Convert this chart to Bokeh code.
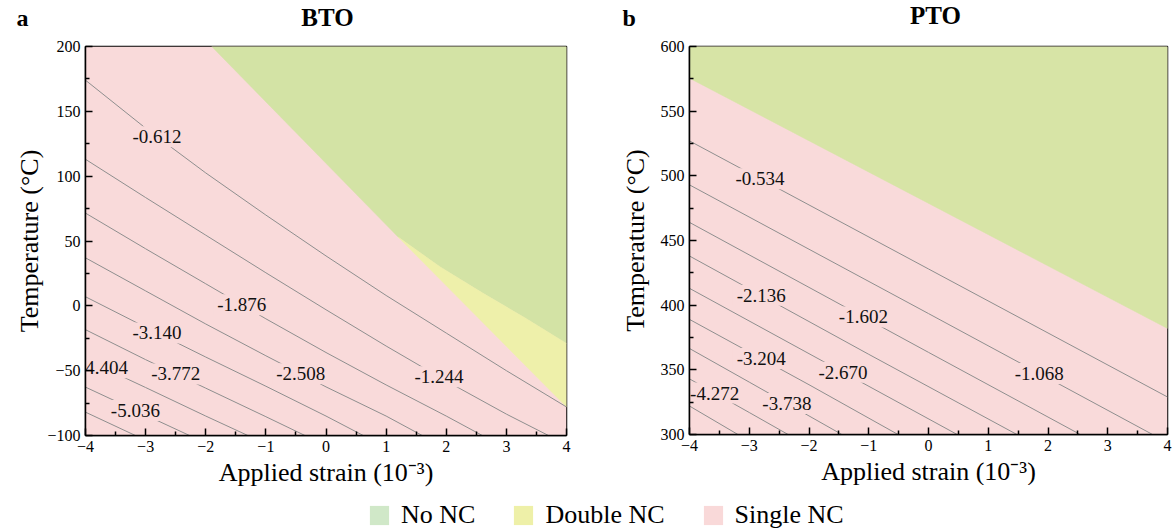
import numpy as np
from bokeh.plotting import figure
from bokeh.models import (Range1d, FixedTicker, CustomJSTickFormatter,
                          Legend, LegendItem)
from bokeh.layouts import column, row
from bokeh.embed import file_html
from bokeh.resources import INLINE
from bokeh.core.properties import value

# ---------------- data ----------------
strain_ticks = [-4, -3, -2, -1, 0, 1, 2, 3, 4]
strain_minor = [-3.5, -2.5, -1.5, -0.5, 0.5, 1.5, 2.5, 3.5]
strain_range = [-4, 4]

bto_temp_range = [-100, 200]
bto_temp_ticks = [-100, -50, 0, 50, 100, 150, 200]
bto_temp_minor = [-75, -25, 25, 75, 125, 175]

pto_temp_range = [300, 600]
pto_temp_ticks = [300, 350, 400, 450, 500, 550, 600]
pto_temp_minor = [325, 375, 425, 475, 525, 575]

# BTO contour lines (energy levels)
bto_levels = [-0.612, -1.244, -1.876, -2.508, -3.140, -3.772, -4.404, -5.036, -5.668]
bto_line_strain = [
    [-4, -3, -2, -1, 0, 1, 2, 3, 4],
    [-4, -3, -2, -1, 0, 1, 2, 3, 3.7],
    [-4, -3, -2, -1, 0, 1, 2, 2.6],
    [-4, -3, -2, -1, 0, 1, 1.6],
    [-4, -3, -2, -1, 0, 0.62],
    [-4, -3, -2, -1, -0.35],
    [-4, -3, -2, -1.3],
    [-4, -3, -2.27],
    [-4, -3.17],
]
bto_line_temp = [
    [174, 137, 102.5, 70, 38.5, 8, -21, -50, -78],
    [113, 83.5, 54.5, 25.5, -3, -31, -58, -83.5, -100],
    [71.5, 44, 17, -10, -36, -61, -85, -100],
    [37, 11.5, -14, -38.5, -62.5, -85, -100],
    [7, -16.5, -39.5, -62, -85, -100],
    [-18.4, -41.5, -63.5, -85.5, -100],
    [-41.3, -63, -85, -100],
    [-62.7, -84.3, -100],
    [-82, -100],
]
bto_label_strain = [-2.81, 1.88, -1.40, -0.42, -2.81, -2.50, -3.70, -3.17, None]

# BTO phase regions
bto_single_edge_strain = [-1.9, 4.0]      # upper edge of the Single NC region
bto_single_edge_temp = [200, -78]
bto_nonc_edge_strain = [1.2, 1.9, 2.6, 3.3, 4.0]   # No NC / Double NC edge
bto_nonc_edge_temp = [53, 30, 10, -9, -29]

# PTO contour lines
pto_levels = [-0.534, -1.068, -1.602, -2.136, -2.670, -3.204, -3.738, -4.272, -4.806]
pto_line_strain = [
    [-4, 0, 4], [-4, 0, 3.75], [-4, 0, 2.54], [-4, -1, 1.48], [-4, -2, 0.48],
    [-4, -2, -0.51], [-4, -3, -1.45], [-4, -3, -2.35], [-4, -3.19],
]
pto_line_temp = [
    [527, 428, 329], [493, 393.5, 300], [464, 363.5, 300], [438, 362, 300],
    [413, 362.5, 300], [389, 338.5, 300], [366.5, 340.5, 300], [343, 317, 300],
    [322, 300],
]
pto_label_strain = [-2.82, 1.855, -1.09, -2.80, -1.43, -2.80, -2.37, -3.58, None]

# PTO phase boundary (No NC above)
pto_nonc_edge_strain = [-4, 4]
pto_nonc_edge_temp = [575.5, 382]

panel_titles = ["BTO", "PTO"]
panel_letters = ["a", "b"]
legend_labels = ["No NC", "Double NC", "Single NC"]

# ---------------- style ----------------
PINK = "#f9dada"
GREEN = "#d3e3a5"
GREEN_B = "#d7e4a6"
YELLOW = "#eef0aa"
LEG_GREEN = "#d0e8c8"
LEG_YELLOW = "#eef0a8"
LEG_PINK = "#f9d9d9"
SERIF = "Liberation Serif"
LINE_GRAY = "#8e8e8e"
MINUS_JS = "return (tick < 0 ? '\u2212' : '') + Math.abs(tick);"
TOTAL_W = 1173


def style_axes(p, yticks, yminor, ylab_standoff):
    p.xaxis.ticker = FixedTicker(ticks=strain_ticks, minor_ticks=strain_minor)
    p.yaxis.ticker = FixedTicker(ticks=yticks, minor_ticks=yminor)
    for ax in (p.xaxis[0], p.yaxis[0]):
        ax.formatter = CustomJSTickFormatter(code=MINUS_JS)
        ax.major_tick_in = 7
        ax.major_tick_out = 0
        ax.minor_tick_in = 4
        ax.minor_tick_out = 0
        ax.axis_line_width = 1.5
        ax.major_tick_line_width = 1.5
        ax.minor_tick_line_width = 1.5
        ax.major_label_text_font = SERIF
        ax.major_label_text_font_size = "16px"
        ax.major_label_text_color = "black"
        ax.axis_label_text_font = SERIF
        ax.axis_label_text_font_size = "26px"
        ax.axis_label_text_font_style = "normal"
        ax.axis_label_text_color = "black"
    p.xaxis.major_label_standoff = 5
    p.yaxis.major_label_standoff = 5
    p.xaxis.axis_label_standoff = 3
    p.yaxis.axis_label_standoff = ylab_standoff
    p.xaxis.axis_label = "Applied strain (10\u207b\u00b3)"
    p.yaxis.axis_label = "Temperature (\u00b0C)"
    p.grid.visible = False
    p.outline_line_color = "black"
    p.outline_line_width = 1.5
    p.outline_line_alpha = 1.0


def add_contours(p, strains, temps, levels, label_strain, fsize="19px"):
    p.multi_line(xs=strains, ys=temps, line_color=LINE_GRAY, line_width=1)
    lx, ly, lt = [], [], []
    for s, t, lev, ls in zip(strains, temps, levels, label_strain):
        if ls is None:
            continue
        lx.append(ls)
        ly.append(float(np.interp(ls, s, t)))
        lt.append(f"{lev:.3f}")
    p.text(x=lx, y=ly, text=lt, text_font=value(SERIF), text_font_size=fsize,
           text_align="center", text_baseline="middle", text_color="#111111",
           background_fill_color=PINK, padding=4)


# ---------------- header strip (panel letters and titles) ----------------
HEAD_H = 36
p0 = figure(width=TOTAL_W, height=HEAD_H, x_range=Range1d(0, TOTAL_W),
            y_range=Range1d(0, HEAD_H), output_backend="svg",
            toolbar_location=None, min_border=0,
            x_axis_location=None, y_axis_location=None)
p0.outline_line_color = None
p0.grid.visible = False
p0.text(x=[16, 622], y=[19, 19], text=panel_letters, text_font=value(SERIF),
        text_font_size="24px", text_font_style="bold", text_align="left",
        text_baseline="middle", text_color="black")
p0.text(x=[327, 935], y=[19, 21], text=panel_titles, text_font=value(SERIF),
        text_font_size="25px", text_font_style="bold", text_align="center",
        text_baseline="middle", text_color="black")

# ---------------- panel a: BTO ----------------
p1 = figure(frame_width=481, frame_height=389,
            x_range=Range1d(*strain_range), y_range=Range1d(*bto_temp_range),
            output_backend="svg", toolbar_location=None,
            min_border_left=85, min_border_right=20, min_border_top=10,
            min_border_bottom=48)
p1.background_fill_color = PINK
style_axes(p1, bto_temp_ticks, bto_temp_minor, 0)

p1.patch([strain_range[0], strain_range[0], strain_range[1], strain_range[1]],
         [bto_temp_range[0], bto_temp_range[1], bto_temp_range[1], bto_temp_range[0]],
         fill_color=PINK, line_color=None)
gx = [bto_single_edge_strain[0], strain_range[1]] + bto_nonc_edge_strain[::-1]
gy = [bto_temp_range[1], bto_temp_range[1]] + bto_nonc_edge_temp[::-1]
p1.patch(gx, gy, fill_color=GREEN, line_color=GREEN, line_width=0.5)
yx = bto_nonc_edge_strain + [bto_single_edge_strain[1]]
yy = bto_nonc_edge_temp + [bto_single_edge_temp[1]]
p1.patch(yx, yy, fill_color=YELLOW, line_color=YELLOW, line_width=0.5)

add_contours(p1, bto_line_strain, bto_line_temp, bto_levels, bto_label_strain)

# ---------------- panel b: PTO ----------------
p2 = figure(frame_width=478, frame_height=388,
            x_range=Range1d(*strain_range), y_range=Range1d(*pto_temp_range),
            output_backend="svg", toolbar_location=None,
            min_border_left=103, min_border_right=6, min_border_top=7,
            min_border_bottom=52)
p2.background_fill_color = PINK
style_axes(p2, pto_temp_ticks, pto_temp_minor, 8)
p2.patch([strain_range[0], strain_range[0], strain_range[1], strain_range[1]],
         [pto_temp_range[0], pto_temp_range[1], pto_temp_range[1], pto_temp_range[0]],
         fill_color=PINK, line_color=None)
px = pto_nonc_edge_strain + [strain_range[1], strain_range[0]]
py = pto_nonc_edge_temp + [pto_temp_range[1], pto_temp_range[1]]
p2.patch(px, py, fill_color=GREEN_B, line_color=GREEN_B, line_width=0.5)

add_contours(p2, pto_line_strain, pto_line_temp, pto_levels, pto_label_strain)

# ---------------- legend strip ----------------
p3 = figure(width=TOTAL_W, height=46, x_range=Range1d(0, 1), y_range=Range1d(0, 1),
            output_backend="svg", toolbar_location=None, min_border=0,
            x_axis_location=None, y_axis_location=None)
p3.outline_line_color = None
p3.grid.visible = False
items = []
for lab, col in zip(legend_labels, [LEG_GREEN, LEG_YELLOW, LEG_PINK]):
    # swatch glyphs sit outside the visible range; only the legend shows them
    r = p3.quad(left=[5], right=[6], top=[6], bottom=[5], fill_color=col, line_color=None)
    items.append(LegendItem(label=lab, renderers=[r]))
leg = Legend(items=items, orientation="horizontal", location=(367, 5),
             glyph_width=24, glyph_height=24, label_standoff=10, spacing=36,
             padding=0, margin=0, label_text_font=SERIF,
             label_text_font_size="26px", label_text_color="black",
             label_height=24, background_fill_alpha=0, border_line_alpha=0)
p3.add_layout(leg, "center")

layout = column(p0, row(p1, p2), p3)
open("out.html", "w").write(file_html(layout, INLINE))
